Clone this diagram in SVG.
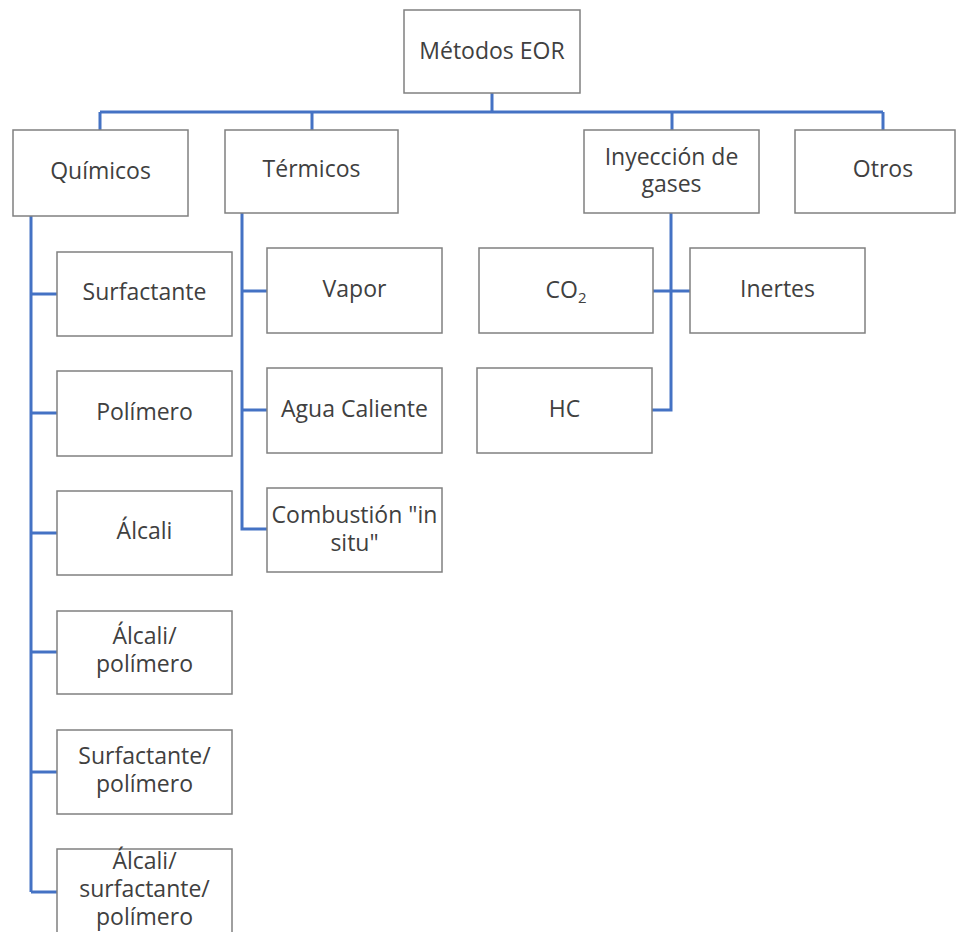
<svg xmlns="http://www.w3.org/2000/svg" width="957" height="932" viewBox="0 0 957 932">
<style>
.box{fill:#ffffff;stroke:#808080;stroke-width:1.5}
.lbl{font-family:"Open Sans","Noto Sans",sans-serif;font-size:23px;fill:#404040;text-anchor:middle}
.con{fill:none;stroke:#4472C4;stroke-width:3}
</style>
<rect width="957" height="932" fill="#ffffff"/>
<g id="connectors">
<path class="con" d="M492 93V112M100 112H883M100 112V130M312 112V130M672 112V130M883 112V130"/>
<path class="con" d="M31 216V892M31 294H57M31 413H57M31 533H57M31 652H57M31 772H57M31 892H57"/>
<path class="con" d="M242 213V529H267M242 291H267M242 410H267"/>
<path class="con" d="M671 213V410H652M653 291H690"/>
</g>
<g id="n-root"><rect class="box" x="404" y="10" width="176" height="83"/><text class="lbl" x="492" y="59">Métodos EOR</text></g>
<g id="n-quimicos"><rect class="box" x="13" y="130" width="175" height="86"/><text class="lbl" x="100.5" y="179">Químicos</text></g>
<g id="n-termicos"><rect class="box" x="225" y="130" width="173" height="83"/><text class="lbl" x="311.5" y="177">Térmicos</text></g>
<g id="n-gases"><rect class="box" x="584" y="130" width="175" height="83"/><text class="lbl" x="671.5" y="165">Inyección de</text><text class="lbl" x="671.5" y="192">gases</text></g>
<g id="n-otros"><rect class="box" x="795" y="130" width="160" height="83"/><text class="lbl" x="883" y="177">Otros</text></g>
<g id="n-surfactante"><rect class="box" x="57" y="252" width="175" height="84"/><text class="lbl" x="144.5" y="300">Surfactante</text></g>
<g id="n-polimero"><rect class="box" x="57" y="371" width="175" height="85"/><text class="lbl" x="144.5" y="420">Polímero</text></g>
<g id="n-alcali"><rect class="box" x="57" y="491" width="175" height="84"/><text class="lbl" x="144.5" y="539">Álcali</text></g>
<g id="n-alcali-polimero"><rect class="box" x="57" y="611" width="175" height="83"/><text class="lbl" x="144.5" y="644">Álcali/</text><text class="lbl" x="144.5" y="672">polímero</text></g>
<g id="n-surf-polimero"><rect class="box" x="57" y="730" width="175" height="84"/><text class="lbl" x="144.5" y="764">Surfactante/</text><text class="lbl" x="144.5" y="792">polímero</text></g>
<g id="n-asp"><rect class="box" x="57" y="849" width="175" height="90"/><text class="lbl" x="144.5" y="869">Álcali/</text><text class="lbl" x="144.5" y="897">surfactante/</text><text class="lbl" x="144.5" y="925">polímero</text></g>
<g id="n-vapor"><rect class="box" x="267" y="248" width="175" height="85"/><text class="lbl" x="354.5" y="297">Vapor</text></g>
<g id="n-agua"><rect class="box" x="267" y="368" width="175" height="85"/><text class="lbl" x="354.5" y="417">Agua Caliente</text></g>
<g id="n-combustion"><rect class="box" x="267" y="488" width="175" height="84"/><text class="lbl" x="354.5" y="523">Combustión "in</text><text class="lbl" x="354.5" y="551">situ"</text></g>
<g id="n-co2"><rect class="box" x="479" y="248" width="174" height="85"/><text class="lbl" x="566" y="298">CO<tspan font-size="15" dy="5">2</tspan></text></g>
<g id="n-inertes"><rect class="box" x="690" y="248" width="175" height="85"/><text class="lbl" x="777.5" y="297">Inertes</text></g>
<g id="n-hc"><rect class="box" x="477" y="368" width="175" height="85"/><text class="lbl" x="564.5" y="417">HC</text></g>
</svg>
